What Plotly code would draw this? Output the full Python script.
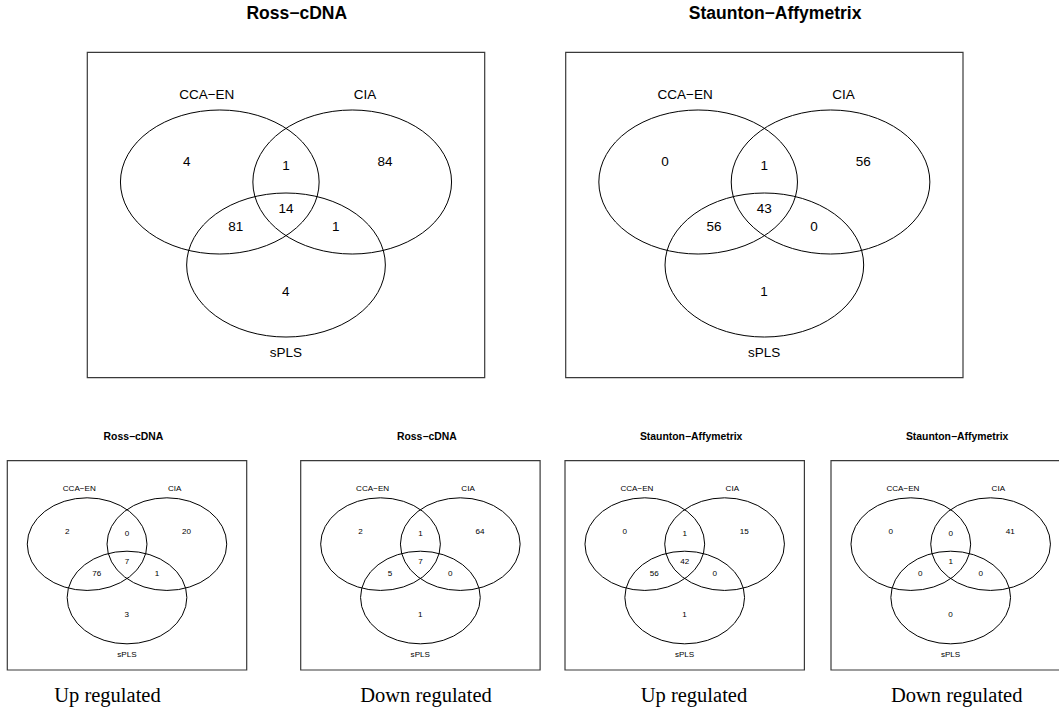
import plotly.graph_objects as go

# ---------------- data ----------------
set_names = ["CCA\u2212EN", "CIA", "sPLS"]
# region order: A only, B only, A&B, A&C, B&C, A&B&C, C only
region_keys = ["A", "B", "AB", "AC", "BC", "ABC", "C"]
ross_all = [4, 84, 1, 81, 1, 14, 4]
staunton_all = [0, 56, 1, 56, 0, 43, 1]
ross_up = [2, 20, 0, 76, 1, 7, 3]
ross_down = [2, 64, 1, 5, 0, 7, 1]
staunton_up = [0, 15, 1, 56, 0, 42, 1]
staunton_down = [0, 41, 0, 0, 0, 1, 0]
titles = ["Ross\u2212cDNA", "Staunton\u2212Affymetrix",
          "Ross\u2212cDNA", "Ross\u2212cDNA",
          "Staunton\u2212Affymetrix", "Staunton\u2212Affymetrix"]
captions = ["Up regulated", "Down regulated", "Up regulated", "Down regulated"]

# ---------------- layout geometry (page pixels) ----------------
W_PX, H_PX = 1059, 713
panels = [
    dict(box=(87.3, 52.3, 484.7, 377.7), title_y=15, tsize=17.5, lsize=13.5, nsize=13.5, counts=ross_all),
    dict(box=(565.7, 52.3, 963.0, 377.7), title_y=15, tsize=17.5, lsize=13.5, nsize=13.5, counts=staunton_all),
    dict(box=(7.3, 460.7, 246.7, 670.0), title_y=437, tsize=10.4, lsize=8.1, nsize=8.1, counts=ross_up),
    dict(box=(300.7, 460.7, 540.1, 670.0), title_y=437, tsize=10.4, lsize=8.1, nsize=8.1, counts=ross_down),
    dict(box=(565.0, 460.7, 804.4, 670.0), title_y=437, tsize=10.4, lsize=8.1, nsize=8.1, counts=staunton_up),
    dict(box=(831.0, 460.7, 1070.4, 670.0), title_y=437, tsize=10.4, lsize=8.1, nsize=8.1, counts=staunton_down),
]
caption_x = [107.5, 426.0, 694.0, 956.7]
caption_y = 697

# normalised positions inside a box (fraction of width, fraction of height from top)
ell_centres = [(0.3334, 0.3986), (0.6666, 0.3986), (0.5, 0.6537)]
ell_r = (0.25, 0.2213)
label_pos = [(0.3005, 0.1334), (0.699, 0.1334), (0.4996, 0.927)]
region_pos = {"A": (0.25, 0.339), "B": (0.749, 0.339), "AB": (0.5, 0.3516),
              "AC": (0.3733, 0.539), "BC": (0.6251, 0.539), "ABC": (0.5, 0.4846),
              "C": (0.4993, 0.7376)}

SANS = "Liberation Sans, Arial, Helvetica, sans-serif"
SERIF = "Liberation Serif, Times New Roman, serif"

fig = go.Figure()
shapes = []

for i, p in enumerate(panels):
    x0, y0, x1, y1 = p["box"]
    w, h = x1 - x0, y1 - y0
    shapes.append(dict(type="rect", xref="x", yref="y", x0=x0, y0=y0, x1=x1, y1=y1,
                       line=dict(color="#3a3a3a", width=1.2), fillcolor="rgba(0,0,0,0)"))
    for (cx, cy) in ell_centres:
        shapes.append(dict(type="circle", xref="x", yref="y",
                           x0=x0 + (cx - ell_r[0]) * w, x1=x0 + (cx + ell_r[0]) * w,
                           y0=y0 + (cy - ell_r[1]) * h, y1=y0 + (cy + ell_r[1]) * h,
                           line=dict(color="black", width=1), fillcolor="rgba(0,0,0,0)"))
    # title
    fig.add_trace(go.Scatter(x=[x0 + 0.527 * w], y=[p["title_y"]], mode="text",
                             text=["<b>" + titles[i] + "</b>"],
                             textfont=dict(family=SANS, size=p["tsize"], color="black"),
                             hoverinfo="skip", showlegend=False, cliponaxis=False))
    # set labels
    fig.add_trace(go.Scatter(x=[x0 + lx * w for lx, ly in label_pos],
                             y=[y0 + ly * h for lx, ly in label_pos],
                             mode="text", text=set_names,
                             textfont=dict(family=SANS, size=p["lsize"], color="black"),
                             hoverinfo="skip", showlegend=False, cliponaxis=True))
    # region counts
    fig.add_trace(go.Scatter(x=[x0 + region_pos[k][0] * w for k in region_keys],
                             y=[y0 + region_pos[k][1] * h for k in region_keys],
                             mode="text", text=[str(v) for v in p["counts"]],
                             textfont=dict(family=SANS, size=p["nsize"], color="black"),
                             hoverinfo="skip", showlegend=False, cliponaxis=True))

fig.add_trace(go.Scatter(x=caption_x, y=[caption_y] * len(caption_x), mode="text",
                         text=captions, textfont=dict(family=SERIF, size=20.5, color="black"),
                         hoverinfo="skip", showlegend=False, cliponaxis=False))

fig.update_layout(
    width=W_PX, height=H_PX,
    margin=dict(l=0, r=0, t=0, b=0),
    paper_bgcolor="white", plot_bgcolor="white",
    shapes=shapes,
    xaxis=dict(range=[0, W_PX], visible=False, fixedrange=True),
    yaxis=dict(range=[H_PX, 0], visible=False, fixedrange=True),
    showlegend=False,
)

fig.write_html(
    "out.html",
    config={"displayModeBar": False},
    post_script="document.body.style.margin='0';document.body.style.overflow='hidden';",
)
